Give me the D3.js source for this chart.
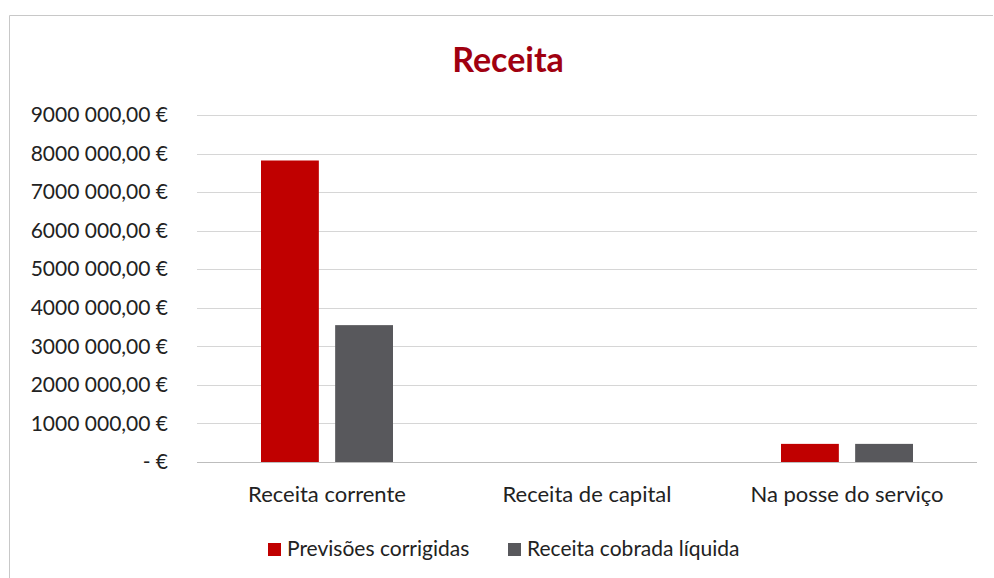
<!DOCTYPE html>
<html>
<head>
<meta charset="utf-8">
<script src="https://cdn.jsdelivr.net/npm/d3@7"></script>
<style>
  body { margin: 0; background: #fff; }
  svg { display: block; font-family: Lato, "Open Sans", sans-serif; }
</style>
</head>
<body>
<svg width="994" height="578"></svg>
<script>
// data
const categories = ["Receita corrente", "Receita de capital", "Na posse do serviço"];
const series = ["Previsões corrigidas", "Receita cobrada líquida"];
const previsoes = [7820000, 0, 470000];
const cobrada = [3550000, 0, 470000];
const yTicks = [0, 1000000, 2000000, 3000000, 4000000, 5000000, 6000000, 7000000, 8000000, 9000000];
const colors = ["#c00000", "#58585c"];

const svg = d3.select("svg"),
    width = +svg.attr("width"),
    height = +svg.attr("height");

const margin = {top: 115, right: 17, bottom: 116, left: 197};

// chart frame (scanned page edge)
svg.append("path")
    .attr("d", `M9.5,${height} V15.5 H${width - 1}`)
    .attr("fill", "none")
    .attr("stroke", "#c8c8c8");

svg.append("text")
    .attr("x", 508)
    .attr("y", 72)
    .attr("text-anchor", "middle")
    .attr("font-size", 34)
    .attr("font-weight", "bold")
    .attr("fill", "#a00010")
    .text("Receita");

const x = d3.scaleBand()
    .domain(categories)
    .range([margin.left, width - margin.right]);

const x1 = d3.scaleBand()
    .domain(series)
    .range([x.bandwidth() / 2 - 66, x.bandwidth() / 2 + 66])
    .paddingInner(0.22);

const y = d3.scaleLinear()
    .domain([0, 9000000])
    .range([height - margin.bottom, margin.top]);

// gridlines
svg.append("g")
    .selectAll("line")
    .data(yTicks)
    .join("line")
      .attr("x1", margin.left)
      .attr("x2", width - margin.right)
      .attr("y1", d => Math.round(y(d)) + 0.5)
      .attr("y2", d => Math.round(y(d)) + 0.5)
      .attr("stroke", d => d === 0 ? "#bdbdbd" : "#d6d6d6")
      .attr("stroke-width", 1);

// y axis labels
const fmt = d => {
    if (d === 0) return "-   €";
    const s = d3.format(",.2f")(d).replace(/,/g, " ").replace(".", ",");
    return s.replace(/^(\d) /, "$1") + " €";
};
const yAxis = d3.axisLeft(y)
    .tickValues(yTicks)
    .tickFormat(fmt)
    .tickSize(0)
    .tickPadding(29);
svg.append("g")
    .attr("transform", `translate(${margin.left},0)`)
    .call(yAxis)
    .call(g => g.select(".domain").remove())
    .call(g => g.selectAll("text")
        .attr("font-size", 21)
        .attr("font-family", "Lato, sans-serif")
        .attr("fill", "#222"));

// x axis labels
const xAxis = d3.axisBottom(x).tickSize(0).tickPadding(24);
svg.append("g")
    .attr("transform", `translate(0,${height - margin.bottom})`)
    .call(xAxis)
    .call(g => g.select(".domain").remove())
    .call(g => g.selectAll("text")
        .attr("font-size", 22)
        .attr("font-family", "Lato, sans-serif")
        .attr("fill", "#222"));

// bars
const rows = categories.map((c, i) => ({cat: c, values: [previsoes[i], cobrada[i]]}));
svg.append("g")
    .selectAll("g")
    .data(rows)
    .join("g")
      .attr("transform", d => `translate(${x(d.cat)},0)`)
    .selectAll("rect")
    .data(d => d.values.map((v, j) => ({key: series[j], value: v, color: colors[j]})))
    .join("rect")
      .attr("x", d => x1(d.key))
      .attr("width", x1.bandwidth())
      .attr("y", d => y(d.value))
      .attr("height", d => y(0) - y(d.value))
      .attr("fill", d => d.color);

// legend
const legendX = [268, 508];
const legend = svg.append("g")
    .selectAll("g")
    .data(series)
    .join("g")
      .attr("transform", (d, i) => `translate(${legendX[i]},543)`);
legend.append("rect")
    .attr("width", 13)
    .attr("height", 13)
    .attr("fill", (d, i) => colors[i]);
legend.append("text")
    .attr("x", 19)
    .attr("y", 13)
    .attr("font-size", 21)
    .attr("fill", "#222")
    .text(d => d);
</script>
</body>
</html>
